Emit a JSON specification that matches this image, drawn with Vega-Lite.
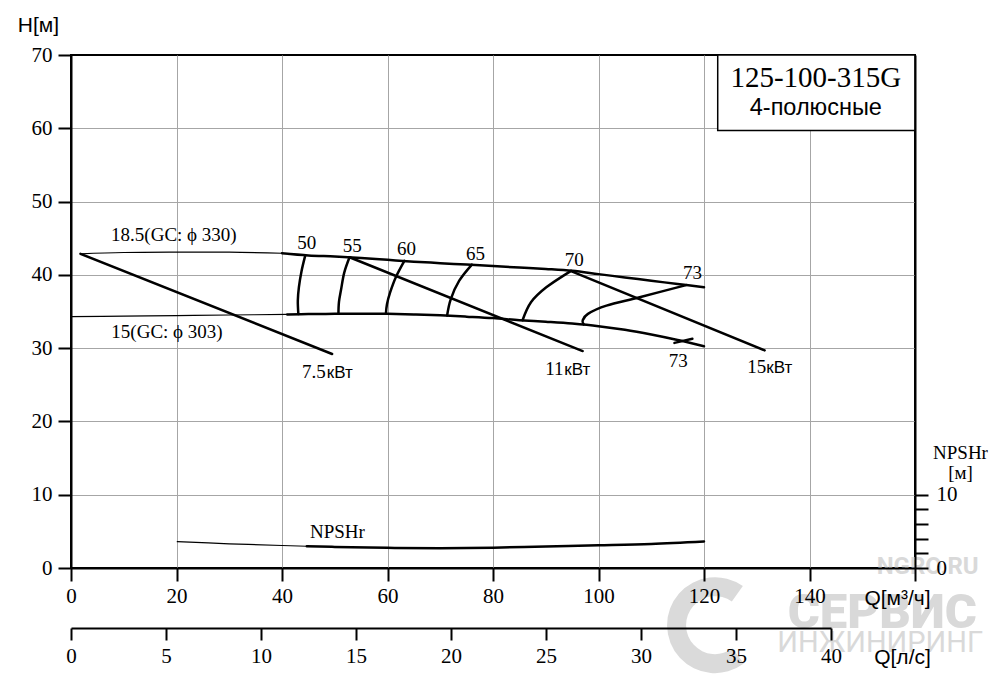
{
  "$schema": "https://vega.github.io/schema/vega-lite/v6.json",
  "width": 844,
  "height": 513,
  "autosize": {"type": "none"},
  "padding": {"left": 71, "top": 55, "right": 85, "bottom": 115},
  "background": "white",
  "config": {
    "view": {"stroke": "black", "strokeWidth": 2},
    "axis": {
      "domainColor": "black", "domainWidth": 2,
      "tickColor": "black", "tickWidth": 2,
      "gridColor": "#a6a6a6", "gridWidth": 1,
      "labelFont": "Liberation Serif", "labelFontSize": 21, "labelColor": "black",
      "labelFlush": false, "labelOverlap": false,
      "titleFont": "Liberation Sans", "titleFontSize": 21, "titleFontWeight": "normal", "titleColor": "black"
    },
    "text": {"color": "black"}
  },
  "datasets": {
    "curves": [
      {"c": "18.5", "p": "thin", "i": 0, "Q": 1.8, "H": 42.87},
      {"c": "18.5", "p": "thin", "i": 1, "Q": 10, "H": 43.05},
      {"c": "18.5", "p": "thin", "i": 2, "Q": 20, "H": 43.1},
      {"c": "18.5", "p": "thin", "i": 3, "Q": 30, "H": 43.1},
      {"c": "18.5", "p": "thin", "i": 4, "Q": 40, "H": 42.95},
      {"c": "18.5", "p": "thick", "i": 0, "Q": 40, "H": 42.95},
      {"c": "18.5", "p": "thick", "i": 1, "Q": 45, "H": 42.65},
      {"c": "18.5", "p": "thick", "i": 2, "Q": 50, "H": 42.5},
      {"c": "18.5", "p": "thick", "i": 3, "Q": 55, "H": 42.3},
      {"c": "18.5", "p": "thick", "i": 4, "Q": 60, "H": 42.05},
      {"c": "18.5", "p": "thick", "i": 5, "Q": 65, "H": 41.8},
      {"c": "18.5", "p": "thick", "i": 6, "Q": 70, "H": 41.6},
      {"c": "18.5", "p": "thick", "i": 7, "Q": 75, "H": 41.4},
      {"c": "18.5", "p": "thick", "i": 8, "Q": 80, "H": 41.2},
      {"c": "18.5", "p": "thick", "i": 9, "Q": 85, "H": 41.0},
      {"c": "18.5", "p": "thick", "i": 10, "Q": 90, "H": 40.8},
      {"c": "18.5", "p": "thick", "i": 11, "Q": 95, "H": 40.55},
      {"c": "18.5", "p": "thick", "i": 12, "Q": 100, "H": 40.1},
      {"c": "18.5", "p": "thick", "i": 13, "Q": 105, "H": 39.65},
      {"c": "18.5", "p": "thick", "i": 14, "Q": 110, "H": 39.2},
      {"c": "18.5", "p": "thick", "i": 15, "Q": 115, "H": 38.75},
      {"c": "18.5", "p": "thick", "i": 16, "Q": 120, "H": 38.3},
      {"c": "15", "p": "thin", "i": 0, "Q": 0, "H": 34.3},
      {"c": "15", "p": "thin", "i": 1, "Q": 10, "H": 34.38},
      {"c": "15", "p": "thin", "i": 2, "Q": 20, "H": 34.45},
      {"c": "15", "p": "thin", "i": 3, "Q": 30, "H": 34.52},
      {"c": "15", "p": "thin", "i": 4, "Q": 41, "H": 34.6},
      {"c": "15", "p": "thick", "i": 0, "Q": 41, "H": 34.6},
      {"c": "15", "p": "thick", "i": 1, "Q": 45, "H": 34.65},
      {"c": "15", "p": "thick", "i": 2, "Q": 50, "H": 34.68},
      {"c": "15", "p": "thick", "i": 3, "Q": 55, "H": 34.7},
      {"c": "15", "p": "thick", "i": 4, "Q": 60, "H": 34.68},
      {"c": "15", "p": "thick", "i": 5, "Q": 65, "H": 34.6},
      {"c": "15", "p": "thick", "i": 6, "Q": 70, "H": 34.48},
      {"c": "15", "p": "thick", "i": 7, "Q": 75, "H": 34.3},
      {"c": "15", "p": "thick", "i": 8, "Q": 80, "H": 34.1},
      {"c": "15", "p": "thick", "i": 9, "Q": 85, "H": 33.82},
      {"c": "15", "p": "thick", "i": 10, "Q": 90, "H": 33.6},
      {"c": "15", "p": "thick", "i": 11, "Q": 95, "H": 33.35},
      {"c": "15", "p": "thick", "i": 12, "Q": 100, "H": 33.0},
      {"c": "15", "p": "thick", "i": 13, "Q": 105, "H": 32.5},
      {"c": "15", "p": "thick", "i": 14, "Q": 110, "H": 31.85},
      {"c": "15", "p": "thick", "i": 15, "Q": 115, "H": 31.1},
      {"c": "15", "p": "thick", "i": 16, "Q": 120, "H": 30.25},
      {"c": "7.5kW", "p": "thick", "i": 0, "Q": 1.8, "H": 42.87},
      {"c": "7.5kW", "p": "thick", "i": 1, "Q": 49.5, "H": 29.2},
      {"c": "11kW", "p": "thick", "i": 0, "Q": 52.8, "H": 42.4},
      {"c": "11kW", "p": "thick", "i": 1, "Q": 97.0, "H": 29.6},
      {"c": "15kW", "p": "thick", "i": 0, "Q": 94.8, "H": 40.5},
      {"c": "15kW", "p": "thick", "i": 1, "Q": 131.5, "H": 29.7},
      {"c": "eta50", "p": "thick", "i": 0, "Q": 44.4, "H": 42.63},
      {"c": "eta50", "p": "thick", "i": 1, "Q": 43.7, "H": 40.5},
      {"c": "eta50", "p": "thick", "i": 2, "Q": 43.2, "H": 38.3},
      {"c": "eta50", "p": "thick", "i": 3, "Q": 43.0, "H": 36.5},
      {"c": "eta50", "p": "thick", "i": 4, "Q": 43.1, "H": 34.66},
      {"c": "eta55", "p": "thick", "i": 0, "Q": 52.8, "H": 42.4},
      {"c": "eta55", "p": "thick", "i": 1, "Q": 51.8, "H": 40.3},
      {"c": "eta55", "p": "thick", "i": 2, "Q": 51.2, "H": 38.0},
      {"c": "eta55", "p": "thick", "i": 3, "Q": 50.8, "H": 36.3},
      {"c": "eta55", "p": "thick", "i": 4, "Q": 50.7, "H": 34.68},
      {"c": "eta60", "p": "thick", "i": 0, "Q": 63.2, "H": 41.9},
      {"c": "eta60", "p": "thick", "i": 1, "Q": 61.6, "H": 39.7},
      {"c": "eta60", "p": "thick", "i": 2, "Q": 60.5, "H": 37.6},
      {"c": "eta60", "p": "thick", "i": 3, "Q": 59.9, "H": 36.0},
      {"c": "eta60", "p": "thick", "i": 4, "Q": 59.7, "H": 34.68},
      {"c": "eta65", "p": "thick", "i": 0, "Q": 76.0, "H": 41.4},
      {"c": "eta65", "p": "thick", "i": 1, "Q": 73.6, "H": 39.2},
      {"c": "eta65", "p": "thick", "i": 2, "Q": 72.0, "H": 36.7},
      {"c": "eta65", "p": "thick", "i": 3, "Q": 71.3, "H": 34.45},
      {"c": "eta70", "p": "thick", "i": 0, "Q": 94.8, "H": 40.55},
      {"c": "eta70", "p": "thick", "i": 1, "Q": 90.1, "H": 38.3},
      {"c": "eta70", "p": "thick", "i": 2, "Q": 87.2, "H": 36.26},
      {"c": "eta70", "p": "thick", "i": 3, "Q": 85.6, "H": 33.8},
      {"c": "eta73", "p": "thick", "i": 0, "Q": 116.6, "H": 38.6},
      {"c": "eta73", "p": "thick", "i": 1, "Q": 107.8, "H": 36.95},
      {"c": "eta73", "p": "thick", "i": 2, "Q": 101.5, "H": 35.8},
      {"c": "eta73", "p": "thick", "i": 3, "Q": 98.0, "H": 34.68},
      {"c": "eta73", "p": "thick", "i": 4, "Q": 97.0, "H": 33.77},
      {"c": "eta73", "p": "thick", "i": 5, "Q": 97.2, "H": 33.25},
      {"c": "eta73b", "p": "thick", "i": 0, "Q": 114.4, "H": 30.72},
      {"c": "eta73b", "p": "thick", "i": 1, "Q": 117.8, "H": 31.27},
      {"c": "npsh", "p": "thin", "i": 0, "Q": 20.15, "H": 3.6},
      {"c": "npsh", "p": "thin", "i": 1, "Q": 30, "H": 3.3},
      {"c": "npsh", "p": "thin", "i": 2, "Q": 40, "H": 3.07},
      {"c": "npsh", "p": "thin", "i": 3, "Q": 44.7, "H": 2.97},
      {"c": "npsh", "p": "thick", "i": 0, "Q": 44.7, "H": 2.97},
      {"c": "npsh", "p": "thick", "i": 1, "Q": 50, "H": 2.88},
      {"c": "npsh", "p": "thick", "i": 2, "Q": 60, "H": 2.75},
      {"c": "npsh", "p": "thick", "i": 3, "Q": 70, "H": 2.7},
      {"c": "npsh", "p": "thick", "i": 4, "Q": 80, "H": 2.78},
      {"c": "npsh", "p": "thick", "i": 5, "Q": 90, "H": 2.95},
      {"c": "npsh", "p": "thick", "i": 6, "Q": 100, "H": 3.1},
      {"c": "npsh", "p": "thick", "i": 7, "Q": 110, "H": 3.28},
      {"c": "npsh", "p": "thick", "i": 8, "Q": 120, "H": 3.62}
    ],
    "labelsCenter": [
      {"t": "18.5(GC: ϕ 330)", "Q": 19.5, "H": 45.4},
      {"t": "15(GC: ϕ 303)", "Q": 18.2, "H": 32.2},
      {"t": "50", "Q": 44.7, "H": 44.4},
      {"t": "55", "Q": 53.3, "H": 44.0},
      {"t": "60", "Q": 63.6, "H": 43.5},
      {"t": "65", "Q": 76.7, "H": 42.9},
      {"t": "70", "Q": 95.4, "H": 42.0},
      {"t": "73", "Q": 117.8, "H": 40.2},
      {"t": "73", "Q": 115.1, "H": 28.3},
      {"t": "NPSHr", "Q": 50.5, "H": 4.9}
    ],
    "kwNumbers": [
      {"t": "7.5", "Q": 43.8, "H": 26.7},
      {"t": "11", "Q": 89.9, "H": 27.2},
      {"t": "15", "Q": 128.2, "H": 27.4}
    ],
    "kwUnits": [
      {"t": "кВт", "Q": 48.5, "H": 26.7},
      {"t": "кВт", "Q": 93.5, "H": 27.2},
      {"t": "кВт", "Q": 131.8, "H": 27.4}
    ],
    "dummy": [{"a": 0, "b": 0}, {"a": 40, "b": 10}]
  },
  "layer": [
    {
      "data": {"name": "dummy"},
      "mark": {"type": "point", "opacity": 0},
      "encoding": {
        "x": {
          "field": "a", "type": "quantitative",
          "scale": {"domain": [0, 160], "nice": false},
          "axis": {
            "orient": "bottom", "title": null, "values": [20, 40, 60, 80, 100, 120, 140],
            "grid": true, "domain": false, "ticks": false, "labels": false, "zindex": 0
          }
        },
        "y": {
          "field": "b", "type": "quantitative",
          "scale": {"domain": [0, 70], "nice": false},
          "axis": {
            "orient": "left", "title": null, "values": [10, 20, 30, 40, 50, 60],
            "grid": true, "domain": false, "ticks": false, "labels": false, "zindex": 0
          }
        }
      }
    },
    {
      "encoding": {
        "x": {
          "field": "Q", "type": "quantitative",
          "scale": {"domain": [0, 160], "nice": false},
          "axis": {
            "orient": "bottom", "title": "Q[м³/ч]",
            "values": [0, 20, 40, 60, 80, 100, 120, 140, 160],
            "labelExpr": "datum.value == 160 ? '' : datum.label",
            "grid": false, "tickSize": 13, "labelPadding": 4, "zindex": 1,
            "titleX": 826, "titleY": 30, "titleAlign": "center", "titleBaseline": "middle"
          }
        },
        "y": {
          "field": "H", "type": "quantitative",
          "scale": {"domain": [0, 70], "nice": false},
          "axis": {
            "orient": "left", "title": "H[м]",
            "values": [0, 10, 20, 30, 40, 50, 60, 70],
            "grid": false, "tickSize": 13, "labelPadding": 6, "zindex": 1,
            "titleAngle": 0, "titleX": -33, "titleY": -30, "titleAlign": "center", "titleBaseline": "middle"
          }
        }
      },
      "layer": [
        {
          "data": {"values": [{"Q": 122.1, "H": -7.8}]},
          "mark": {"type": "arc", "radius": 48, "radius2": 29, "theta": 2.5, "theta2": 6.9, "color": "#dadada"}
        },
        {
          "data": {"values": [{"t": "NGRO.RU", "Q": 162.4, "H": 0.2}]},
          "mark": {"type": "text", "font": "Roboto", "fontWeight": "bold", "fontSize": 24, "color": "#d9d9d9"},
          "encoding": {"text": {"field": "t"}}
        },
        {
          "data": {"values": [{"t": "СЕРВИС", "Q": 153.8, "H": -6.2}]},
          "mark": {"type": "text", "font": "Roboto", "fontWeight": 900, "fontSize": 49, "color": "#d9d9d9"},
          "encoding": {"text": {"field": "t"}}
        },
        {
          "data": {"values": [{"t": "ИНЖИНИРИНГ", "Q": 153.4, "H": -10.2}]},
          "mark": {"type": "text", "font": "Roboto", "fontSize": 29, "color": "#d9d9d9"},
          "encoding": {"text": {"field": "t"}}
        },
        {
          "data": {"values": [{"Q": 122.6, "Q2": 160, "H": 59.7, "H2": 70}]},
          "mark": {"type": "rect", "fill": "white", "stroke": "black", "strokeWidth": 1.5},
          "encoding": {"x2": {"field": "Q2"}, "y2": {"field": "H2"}}
        },
        {
          "data": {"values": [{"t": "125-100-315G", "Q": 141.2, "H": 66.9}]},
          "mark": {"type": "text", "font": "Liberation Serif", "fontSize": 29},
          "encoding": {"text": {"field": "t"}}
        },
        {
          "data": {"values": [{"t": "4-полюсные", "Q": 141.2, "H": 62.7}]},
          "mark": {"type": "text", "font": "Liberation Sans", "fontSize": 23.5},
          "encoding": {"text": {"field": "t"}}
        },
        {
          "data": {"name": "curves"},
          "mark": {"type": "line", "color": "black", "interpolate": "cardinal", "strokeCap": "round", "strokeJoin": "round"},
          "encoding": {
            "order": {"field": "i", "type": "quantitative"},
            "detail": [{"field": "c"}, {"field": "p"}],
            "strokeWidth": {
              "field": "p", "type": "nominal",
              "scale": {"domain": ["thin", "thick"], "range": [1.2, 2.5]},
              "legend": null
            }
          }
        },
        {
          "data": {"name": "labelsCenter"},
          "mark": {"type": "text", "font": "Liberation Serif", "fontSize": 19},
          "encoding": {"text": {"field": "t"}}
        },
        {
          "data": {"name": "kwNumbers"},
          "mark": {"type": "text", "font": "Liberation Serif", "fontSize": 19, "align": "left"},
          "encoding": {"text": {"field": "t"}}
        },
        {
          "data": {"name": "kwUnits"},
          "mark": {"type": "text", "font": "Liberation Sans", "fontSize": 17, "align": "left", "dy": 1},
          "encoding": {"text": {"field": "t"}}
        }
      ]
    },
    {
      "data": {"name": "dummy"},
      "mark": {"type": "point", "opacity": 0},
      "encoding": {
        "x": {
          "field": "a", "type": "quantitative",
          "scale": {"domain": [0, 40], "range": [0, 760], "nice": false},
          "axis": {
            "orient": "bottom", "offset": 60, "title": "Q[л/с]",
            "values": [0, 5, 10, 15, 20, 25, 30, 35, 40],
            "grid": false, "tickSize": 12, "labelPadding": 5, "zindex": 1,
            "titleX": 831, "titleY": 29, "titleAlign": "center", "titleBaseline": "middle"
          }
        },
        "y": {
          "field": "b", "type": "quantitative",
          "scale": {"domain": [0, 70], "nice": false},
          "axis": {
            "orient": "right", "title": ["NPSHr", "[м]"],
            "values": [0, 2, 4, 6, 8, 10],
            "labelExpr": "datum.value == 0 || datum.value == 10 ? datum.label : ''",
            "grid": false, "tickSize": 13, "labelPadding": 8, "zindex": 1,
            "titleFont": "Liberation Serif", "titleFontSize": 19, "titleLineHeight": 20,
            "titleAngle": 0, "titleX": 45, "titleY": 397, "titleAlign": "center", "titleBaseline": "middle"
          }
        }
      }
    }
  ],
  "resolve": {"scale": {"x": "independent", "y": "independent"}}
}
